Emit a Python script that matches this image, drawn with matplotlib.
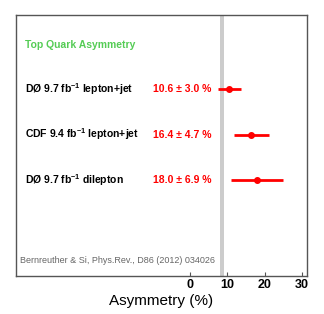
import matplotlib.pyplot as plt

plt.rcParams['font.family'] = ['Liberation Sans', 'DejaVu Sans']
plt.rcParams['mathtext.fontset'] = 'custom'
plt.rcParams['mathtext.bf'] = 'Liberation Sans:bold'

### Data
labels = ['DØ 9.7 fb$^{\\mathbf{-1}}$ lepton+jet', 'CDF 9.4 fb$^{\\mathbf{-1}}$ lepton+jet',
          'DØ 9.7 fb$^{\\mathbf{-1}}$ dilepton']
values = [10.6, 16.4, 18.0]
errors = [3.0, 4.7, 6.9]
theory_lo, theory_hi = 8.2, 9.2
title = 'Top Quark Asymmetry'
citation = 'Bernreuther & Si, Phys.Rev., D86 (2012) 034026'
xticks = [0, 10, 20, 30]

fig = plt.figure(figsize=(3.24, 3.14), dpi=100)
ax = fig.add_axes([16/324, 1-276/314, 291/324, 261/314])

ax.axvspan(theory_lo, theory_hi, color='#cccccc', lw=0, zorder=1)

rows = [1, 2, 3]
ax.errorbar(values, rows, xerr=errors, fmt='o', color='#ff0000', ms=4,
            elinewidth=2, capsize=0, zorder=3)

for r, lab, v, e in zip(rows, labels, values, errors):
    ax.text(-44, r, lab, ha='left', va='center', fontsize=7.5, fontweight='bold')
    ax.text(5.7, r, '%.1f ± %.1f %%' % (v, e), ha='right', va='center',
            fontsize=7.5, fontweight='bold', color='#ff0000')

ax.text(-44, 0.03, title, ha='left', va='center', fontsize=7.5,
        fontweight='bold', color='#55cc55')
ax.text(-45.3, 4.78, citation, ha='left', va='center', fontsize=6.5, color='#666666')

ax.set_xlim(-46.4, 31.3)
ax.set_ylim(5.11, -0.63)
ax.set_yticks([])
ax.set_xticks(xticks)
ax.tick_params(axis='x', direction='in', length=3, width=0.8, color='#555555',
               labelsize=9, pad=2)
for t in ax.get_xticklabels():
    t.set_fontweight('bold')
for s in ax.spines.values():
    s.set_color('#555555')
    s.set_linewidth(1)
ax.set_xlabel('Asymmetry (%)', fontsize=11, labelpad=2)

fig.savefig('out.png', dpi=100)
